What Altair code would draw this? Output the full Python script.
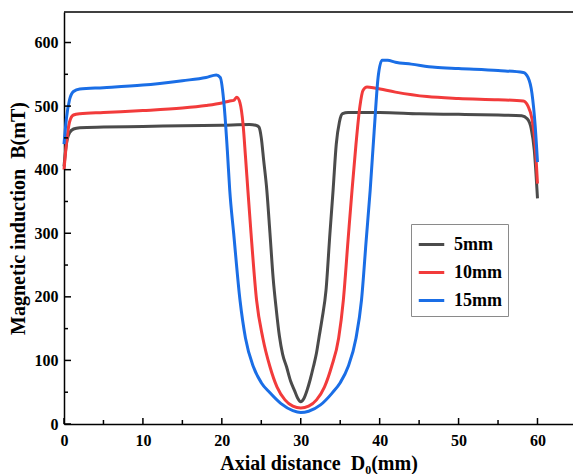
import altair as alt
import pandas as pd

# ---- data ----
x_5mm = [0, 0.3, 0.7, 1.2, 2, 5, 10, 15, 20, 23.5, 24.3, 24.7, 25.0, 25.3, 25.7, 26.1, 26.5, 26.9,
         27.3, 27.7, 28.2, 28.7, 29.2, 29.6, 30.0, 30.4, 30.8, 31.2, 31.6, 32.0, 32.3, 32.7, 33.2,
         33.7, 34.1, 34.5, 34.9, 35.3, 36.0, 40, 45, 50, 55, 58.0, 58.7, 59.2, 59.6, 60.0]
y_5mm = [405, 440, 458, 464, 466, 467, 468, 469, 470, 471, 470, 467, 450, 415, 368, 300, 230, 180,
         138, 110, 90, 68, 53, 41, 35, 40, 53, 70, 90, 112, 135, 165, 210,
         300, 368, 440, 475, 488, 490, 490, 488, 487, 486, 485, 480, 465, 430, 355]

x_10mm = [0, 0.3, 0.7, 1.2, 2, 5, 10, 15, 18, 20, 21, 21.5, 21.9, 22.3, 22.7, 23.0, 23.3, 23.7,
          24.4, 25.2, 26.1, 27.0, 28.0, 29.0, 30.0, 31.0, 32.0, 33.0, 33.9, 34.8, 35.4, 36.0,
          36.5, 37.0, 37.5, 37.9, 38.4, 39.5, 42, 46, 50, 55, 58.2, 58.8, 59.3, 59.7, 60.0]
y_10mm = [400, 440, 475, 486, 488, 490, 493, 497, 501, 505, 508, 509, 514, 505, 470, 420, 368, 300,
          195, 135, 90, 58, 38, 28, 25, 28, 38, 58, 90, 135, 195, 290,
          368, 440, 500, 525, 530, 528, 522, 515, 512, 510, 508, 500, 480, 440, 378]

x_15mm = [0, 0.3, 0.7, 1.2, 2, 5, 10, 15, 18, 19.3, 19.8, 20.3, 20.7, 21.0, 21.5, 22.3, 23.0, 24.0,
          25.0, 26.1, 27.5, 29.0, 30.0, 31.0, 32.5, 34.0, 35.0, 36.0, 37.0, 37.7, 38.3, 38.8,
          39.3, 39.8, 40.3, 41.0, 42, 44, 47, 50, 55, 58.2, 58.8, 59.3, 59.7, 60.0]
y_15mm = [440, 480, 510, 523, 527, 529, 533, 540, 545, 549, 545, 500, 430, 368, 300, 195, 135, 90,
          65, 49, 32, 21, 18, 20, 30, 49, 65, 90, 135, 195, 290, 368,
          460, 545, 572, 572, 569, 566, 561, 559, 556, 553, 545, 520, 470, 412]

series_names = ["5mm", "10mm", "15mm"]
series_colors = ["#4b4b4b", "#f23b3b", "#1a6ee6"]

x_major = [0, 10, 20, 30, 40, 50, 60]
x_minor = [5, 15, 25, 35, 45, 55]
y_major = [0, 100, 200, 300, 400, 500, 600]
y_minor = [50, 150, 250, 350, 450, 550]

W, H = 509, 412
FONT = "Liberation Serif"
NB = "\u00a0"

rows = []
for name, xs, ys in [("5mm", x_5mm, y_5mm), ("10mm", x_10mm, y_10mm), ("15mm", x_15mm, y_15mm)]:
    for i, (a, b) in enumerate(zip(xs, ys)):
        rows.append({"series": name, "x": a, "y": b, "order": i})
df = pd.DataFrame(rows)

xscale = alt.Scale(domain=[0, 64.5], nice=False, zero=False)
yscale = alt.Scale(domain=[0, 648], nice=False, zero=False)

x_axis = alt.Axis(values=x_major, title="Axial distance" + NB + NB + "D₀(mm)", grid=False, ticks=False,
                  labelPadding=8, titlePadding=5, format="d", labelFlush=False)
y_axis = alt.Axis(values=y_major, title="Magnetic induction" + NB + NB + "B(mT)", grid=False, ticks=False,
                  labelPadding=6, titlePadding=6, format="d", labelFlush=False)

lines = alt.Chart(df).mark_line(strokeWidth=3, interpolate="monotone").encode(
    x=alt.X("x:Q", scale=xscale, axis=x_axis),
    y=alt.Y("y:Q", scale=yscale, axis=y_axis),
    color=alt.Color("series:N",
                    scale=alt.Scale(domain=series_names, range=series_colors),
                    sort=series_names,
                    legend=alt.Legend(title=None, orient="none", legendX=347, legendY=212,
                                      strokeColor="#8a8a8a", padding=6, fillColor="white",
                                      symbolType="stroke", symbolStrokeWidth=3, symbolSize=650,
                                      labelFont=FONT, labelFontWeight="bold", labelFontSize=18,
                                      labelOffset=8, rowPadding=4, labelColor="black")),
    order="order:Q",
)

xt_major = alt.Chart(pd.DataFrame({"x": x_major})).mark_rule(color="black", strokeWidth=1.5).encode(
    x=alt.X("x:Q", scale=xscale, axis=x_axis), y=alt.value(H), y2=alt.value(H - 6))
xt_minor = alt.Chart(pd.DataFrame({"x": x_minor})).mark_rule(color="black", strokeWidth=1.5).encode(
    x=alt.X("x:Q", scale=xscale, axis=x_axis), y=alt.value(H), y2=alt.value(H - 4))
yt_major = alt.Chart(pd.DataFrame({"y": y_major})).mark_rule(color="black", strokeWidth=1.5).encode(
    y=alt.Y("y:Q", scale=yscale, axis=y_axis), x=alt.value(0), x2=alt.value(7))
yt_minor = alt.Chart(pd.DataFrame({"y": y_minor})).mark_rule(color="black", strokeWidth=1.5).encode(
    y=alt.Y("y:Q", scale=yscale, axis=y_axis), x=alt.value(0), x2=alt.value(4))
top_border = alt.Chart(pd.DataFrame({"v": [0]})).mark_rule(color="black", strokeWidth=1.5).encode(
    x=alt.value(0), x2=alt.value(W), y=alt.value(0))

chart = alt.layer(lines, xt_major, xt_minor, yt_major, yt_minor, top_border).properties(
    width=W, height=H,
    autosize=alt.AutoSizeParams(type="none"),
    padding={"left": 64, "top": 12, "right": 0, "bottom": 50},
    background="white",
).configure_view(stroke=None).configure_axis(
    domainColor="black", domainWidth=1.5,
    labelFont=FONT, labelFontWeight="bold", labelFontSize=16, labelColor="black",
    titleFont=FONT, titleFontWeight="bold", titleFontSize=20, titleColor="black",
)

chart.save("out.html", embed_options={"renderer": "svg", "actions": False})
